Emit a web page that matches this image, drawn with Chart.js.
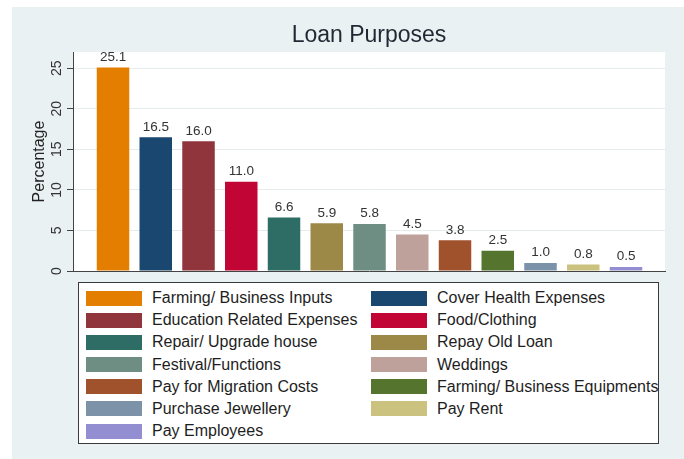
<!DOCTYPE html>
<html><head><meta charset="utf-8">
<script src="https://cdn.jsdelivr.net/npm/chart.js@4/dist/chart.umd.min.js"></script>
<style>
html,body{margin:0;padding:0;background:#fff;}
#wrap{position:relative;width:684px;height:459px;overflow:hidden;}
canvas{position:absolute;left:0;top:0;}
#legend{position:absolute;left:78px;top:282px;width:581px;height:162px;box-sizing:border-box;border:1px solid #3a3a3a;background:#fff;font-family:'Liberation Sans',Arial,sans-serif;font-size:16px;color:#1e1e1e;}
.item{position:absolute;height:16px;line-height:16px;white-space:nowrap;}
.sw{position:absolute;left:0;top:0.5px;width:56px;height:15px;}
.lbl{position:absolute;left:66px;top:0;}
</style></head><body>
<div id="wrap"><canvas id="c" width="684" height="459"></canvas><div id="legend"></div></div>
<script>
const categories = ["Farming/ Business Inputs","Cover Health Expenses","Education Related Expenses","Food/Clothing","Repair/ Upgrade house","Repay Old Loan","Festival/Functions","Weddings","Pay for Migration Costs","Farming/ Business Equipments","Purchase Jewellery","Pay Rent","Pay Employees"];
const values = [25.1,16.5,16.0,11.0,6.6,5.9,5.8,4.5,3.8,2.5,1.0,0.8,0.5];
const colors = ["#E37E00","#1A476F","#90353B","#C10534","#2D6D66","#9C8847","#6E8E84","#BFA19C","#A0522D","#55752F","#7B92A8","#CAC27E","#938DD2"];
const yTicks = [0,5,10,15,20,25];
const title = "Loan Purposes";
const yTitle = "Percentage";

const FAM = "'Liberation Sans', Arial, sans-serif";

// HTML legend, two columns, row-major
const leg = document.getElementById('legend');
categories.forEach((c, i) => {
  const row = Math.floor(i / 2), col = i % 2;
  const it = document.createElement('div');
  it.className = 'item';
  it.style.left = (col === 0 ? 7 : 292) + 'px';
  it.style.top = (7 + row * 22.17) + 'px';
  const sw = document.createElement('div'); sw.className = 'sw'; sw.style.background = colors[i];
  const lb = document.createElement('span'); lb.className = 'lbl'; lb.textContent = c;
  it.appendChild(sw); it.appendChild(lb); leg.appendChild(it);
});

const bgPlugin = {
  id: 'bg',
  beforeDraw(chart) {
    const {ctx, chartArea: a} = chart;
    ctx.save();
    ctx.fillStyle = '#ffffff'; ctx.fillRect(0, 0, chart.width, chart.height);
    ctx.fillStyle = '#eaf1f3'; ctx.fillRect(12, 7, chart.width - 12, chart.height - 7);
    ctx.fillStyle = '#ffffff'; ctx.fillRect(a.left, a.top, a.right - a.left, a.bottom - a.top);
    ctx.restore();
  }
};

const valueLabels = {
  id: 'vals',
  afterDatasetsDraw(chart) {
    const ctx = chart.ctx;
    const meta = chart.getDatasetMeta(0);
    ctx.save();
    ctx.font = '13.5px ' + FAM;
    ctx.fillStyle = '#333333';
    ctx.textAlign = 'center'; ctx.textBaseline = 'alphabetic';
    meta.data.forEach((bar, i) => { ctx.fillText(values[i].toFixed(1), bar.x, bar.y - 6.5); });
    ctx.restore();
  }
};

new Chart(document.getElementById('c'), {
  type: 'bar',
  data: {
    labels: categories,
    datasets: [{
      data: values.map((v, i) => ({x: i, y: v})),
      backgroundColor: colors,
      barPercentage: 0.76,
      categoryPercentage: 1
    }]
  },
  options: {
    responsive: false,
    animation: false,
    devicePixelRatio: 1,
    layout: { padding: { left: 28, right: 19, top: 0, bottom: 188 } },
    plugins: {
      legend: { display: false },
      tooltip: { enabled: false },
      title: {
        display: true, text: title, fullSize: false, color: '#1f2933',
        font: { family: FAM, size: 23, weight: 'normal' },
        padding: { top: 21.7, bottom: 2.7 }
      }
    },
    scales: {
      x: {
        type: 'linear', min: -0.936, max: 12.912, offset: false,
        ticks: { display: false },
        grid: { display: false, drawTicks: false },
        border: { display: true, color: '#444444', width: 1 }
      },
      y: {
        min: 0, max: 27,
        afterBuildTicks: s => { s.ticks = yTicks.map(v => ({value: v})); },
        afterFit: s => { s.width = 45; },
        ticks: { minRotation: 90, maxRotation: 90, crossAlign: 'center', padding: 2, color: '#333333', font: { family: FAM, size: 14 } },
        grid: { color: c => (c.tick && c.tick.value === 0) ? 'rgba(0,0,0,0)' : '#e4ecee', tickColor: '#444444', tickLength: 6 },
        border: { display: true, color: '#444444', width: 1 },
        title: { display: true, text: yTitle, color: '#222222', font: { family: FAM, size: 16 }, padding: { top: 2.4, bottom: 0 } }
      }
    }
  },
  plugins: [bgPlugin, valueLabels]
});
</script>
</body></html>
